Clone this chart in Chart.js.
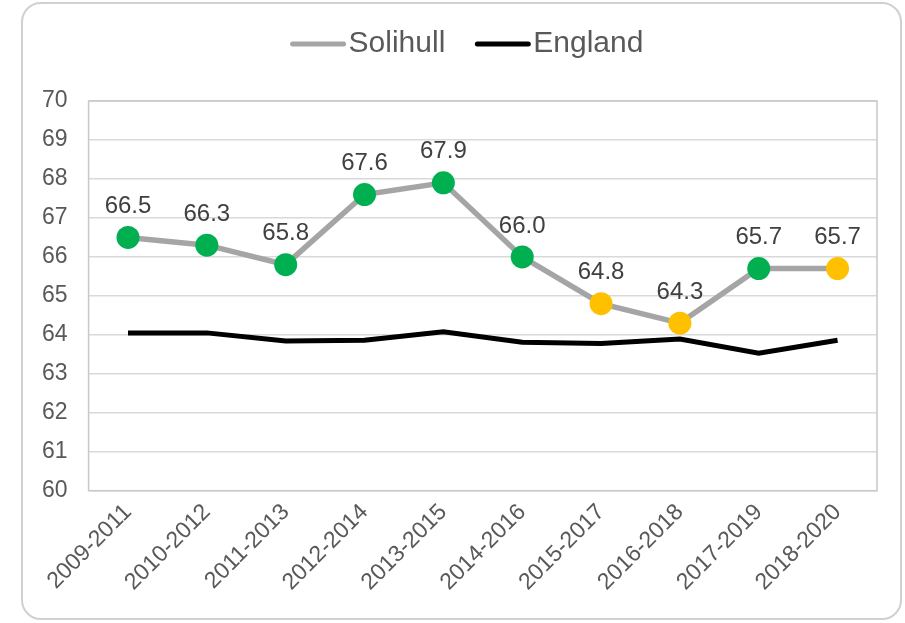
<!DOCTYPE html>
<html>
<head>
<meta charset="utf-8">
<script src="https://cdn.jsdelivr.net/npm/chart.js@4"></script>
<style>
  html, body { margin: 0; padding: 0; background: #fff; }
  #wrap { position: relative; width: 905px; height: 623px; overflow: hidden; }
  #frame {
    position: absolute; left: 21px; top: 2px; width: 877px; height: 614px;
    border: 2px solid #d0d0d0; border-radius: 20px; pointer-events: none;
  }
</style>
</head>
<body>
<div id="wrap">
  <canvas id="chart" width="905" height="623"></canvas>
  <div id="frame"></div>
</div>
<script>
// the data
const periods = ["2009-2011", "2010-2012", "2011-2013", "2012-2014", "2013-2015",
                 "2014-2016", "2015-2017", "2016-2018", "2017-2019", "2018-2020"];
const solihull = [66.5, 66.3, 65.8, 67.6, 67.9, 66.0, 64.8, 64.3, 65.7, 65.7];
const england = [64.05, 64.05, 63.84, 63.86, 64.08, 63.81, 63.78, 63.89, 63.53, 63.86];
// green = similar/better, amber = worse
const point_colours = ["#00B050", "#00B050", "#00B050", "#00B050", "#00B050",
                       "#00B050", "#FFC000", "#FFC000", "#00B050", "#FFC000"];

const FONT = "'Liberation Sans', Arial, sans-serif";

// labels above each Solihull point
const value_labels = {
  id: "value_labels",
  afterDatasetsDraw(chart) {
    const ctx = chart.ctx;
    const meta = chart.getDatasetMeta(0);
    ctx.save();
    ctx.font = "24px " + FONT;
    ctx.fillStyle = "#404040";
    ctx.textAlign = "center";
    ctx.textBaseline = "middle";
    meta.data.forEach(function(pt, i) {
      ctx.fillText(solihull[i].toFixed(1), pt.x, pt.y - 31);
    });
    ctx.restore();
  }
};

// box round the plot area
const plot_border = {
  id: "plot_border",
  beforeDatasetsDraw(chart) {
    const a = chart.chartArea;
    const ctx = chart.ctx;
    ctx.save();
    ctx.strokeStyle = "#c8c8c8";
    ctx.lineWidth = 1.5;
    ctx.strokeRect(a.left, a.top, a.right - a.left, a.bottom - a.top);
    ctx.restore();
  }
};

// own legend: line swatch hugging the text, like excel does it
const line_legend = {
  id: "line_legend",
  afterDraw(chart) {
    const ctx = chart.ctx;
    const items = chart.data.datasets.map(function(ds) {
      return { text: ds.label, colour: ds.borderColor };
    });
    ctx.save();
    ctx.font = "30px " + FONT;
    const sw = 55, gap = 3, between = 30;
    let total = 0;
    for (const it of items) {
      it.w = ctx.measureText(it.text).width;
      total += sw + gap + it.w;
    }
    total += between * (items.length - 1);
    let x = 467 - total / 2;
    const y = 44;
    ctx.textBaseline = "middle";
    for (const it of items) {
      ctx.strokeStyle = it.colour;
      ctx.lineWidth = 5;
      ctx.lineCap = "round";
      ctx.beginPath();
      ctx.moveTo(x + 2, y);
      ctx.lineTo(x + sw - 2, y);
      ctx.stroke();
      ctx.fillStyle = "#595959";
      ctx.fillText(it.text, x + sw + gap, y);
      x += sw + gap + it.w + between;
    }
    ctx.restore();
  }
};

const config = {
  type: "line",
  data: {
    labels: periods,
    datasets: [
      {
        label: "Solihull",
        data: solihull,
        borderColor: "#A5A5A5",
        borderWidth: 5.5,
        pointRadius: 11.5,
        pointHoverRadius: 11.5,
        pointBackgroundColor: point_colours,
        pointBorderColor: point_colours,
        pointBorderWidth: 0,
        tension: 0
      },
      {
        label: "England",
        data: england,
        borderColor: "#000000",
        borderWidth: 5,
        pointRadius: 0,
        tension: 0
      }
    ]
  },
  options: {
    responsive: false,
    animation: false,
    layout: { padding: { top: 101, left: 21, right: 28, bottom: 19 } },
    plugins: {
      legend: { display: false },
      title: { display: false },
      tooltip: { enabled: false }
    },
    scales: {
      x: {
        offset: true,
        grid: { display: false, drawTicks: false },
        border: { display: false },
        ticks: {
          color: "#595959",
          font: { family: FONT, size: 23 },
          minRotation: 45,
          maxRotation: 45,
          padding: 8
        }
      },
      y: {
        min: 60,
        max: 70,
        grid: { color: "#d9d9d9", lineWidth: 1.5, drawTicks: false },
        border: { display: false },
        ticks: {
          stepSize: 1,
          color: "#595959",
          font: { family: FONT, size: 23 },
          padding: 21
        }
      }
    }
  },
  plugins: [plot_border, value_labels, line_legend]
};

new Chart(document.getElementById("chart").getContext("2d"), config);
</script>
</body>
</html>
